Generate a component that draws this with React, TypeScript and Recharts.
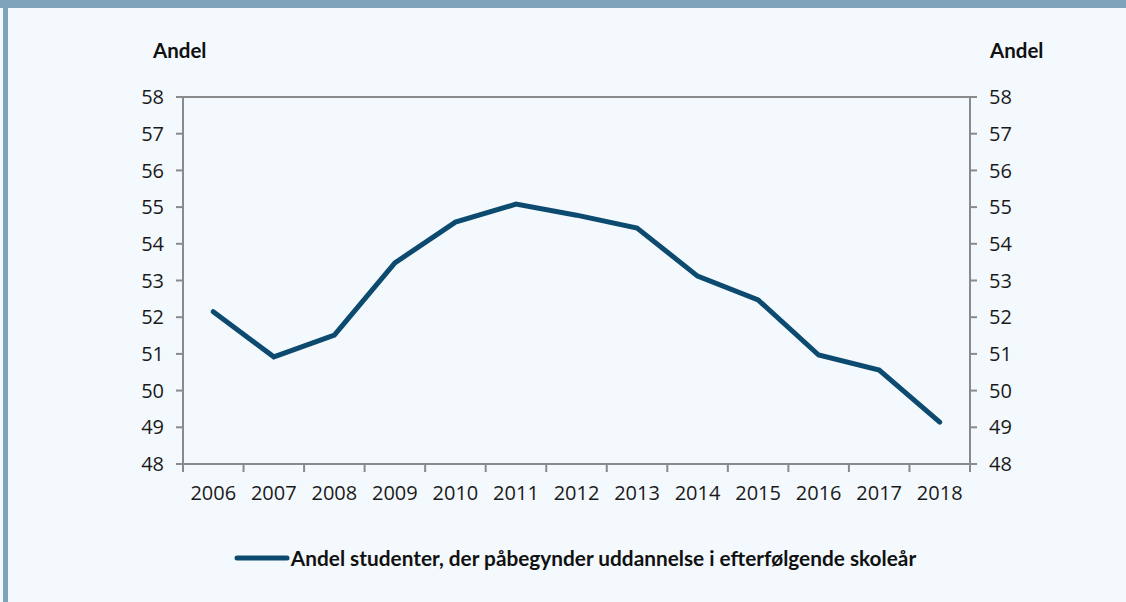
import { LineChart, Line, XAxis, YAxis, CartesianGrid, Legend } from 'recharts';

// share of students starting an education in the following school year
const years = ['2006', '2007', '2008', '2009', '2010', '2011', '2012', '2013', '2014', '2015', '2016', '2017', '2018'];
const andel = [52.15, 50.92, 51.51, 53.48, 54.59, 55.08, 54.78, 54.43, 53.12, 52.47, 50.97, 50.56, 49.14];
const yTicks = [48, 49, 50, 51, 52, 53, 54, 55, 56, 57, 58];
const seriesName = 'Andel studenter, der påbegynder uddannelse i efterfølgende skoleår';

const data = years.map((year, i) => ({ year, andel: andel[i] }));

const LINE = '#0d4a70';
const AXIS = '#8a8a8a';
const BAND = (970 - 183) / years.length;
const tickFont = { fontFamily: '"Open Sans", sans-serif', fontSize: 20, fill: '#1a1a1a' };

const XTick = (props: any) => {
  const { x, y, payload, index } = props;
  const half = BAND / 2;
  return (
    <g>
      <line x1={x - half} x2={x - half} y1={y} y2={y + 8} stroke={AXIS} strokeWidth={2} />
      {index === years.length - 1 && (
        <line x1={x + half} x2={x + half} y1={y} y2={y + 8} stroke={AXIS} strokeWidth={2} />
      )}
      <text x={x} y={y + 36} textAnchor="middle" {...tickFont}>
        {payload.value}
      </text>
    </g>
  );
};

const LegendContent = () => (
  <div style={{ display: 'flex', justifyContent: 'center', alignItems: 'center' }}>
    <svg width={56} height={10} style={{ marginRight: 1 }}>
      <line x1={3} x2={53} y1={5} y2={5} stroke={LINE} strokeWidth={5} strokeLinecap="round" />
    </svg>
    <span style={{ fontFamily: 'Lato, sans-serif', fontWeight: 700, fontSize: 20.8, color: '#111' }}>{seriesName}</span>
  </div>
);

const andelLabel = {
  position: 'absolute' as const,
  top: 38,
  fontFamily: 'Lato, sans-serif',
  fontWeight: 700,
  fontSize: 20.5,
  color: '#111',
};

export default function App() {
  return (
    <div style={{ position: 'fixed', left: 0, top: 0, width: 1126, height: 602, background: '#f4f9fd', overflow: 'hidden' }}>
      <div style={{ position: 'absolute', left: 0, top: 0, width: 1126, height: 8, background: '#7fa3b9' }} />
      <div style={{ position: 'absolute', left: 3, top: 0, width: 5, height: 602, background: '#7fa3b9' }} />
      <div style={{ ...andelLabel, left: 153 }}>Andel</div>
      <div style={{ ...andelLabel, left: 990 }}>Andel</div>
      <LineChart
        width={1126}
        height={602}
        data={data}
        margin={{ top: 97, right: 76, bottom: 98, left: 103 }}
        style={{ position: 'absolute', left: 0, top: 0 }}
      >
        <CartesianGrid vertical={false} stroke={AXIS} strokeWidth={2} />
        <XAxis
          dataKey="year"
          height={40}
          stroke={AXIS}
          strokeWidth={2}
          padding={{ left: BAND / 2, right: BAND / 2 }}
          tickLine={false}
          tickSize={0}
          tickMargin={0}
          interval={0}
          tick={<XTick />}
        />
        <YAxis
          yAxisId="left"
          type="number"
          domain={[48, 58]}
          ticks={yTicks}
          width={80}
          stroke={AXIS}
          strokeWidth={2}
          tickSize={7}
          tickMargin={12}
          tick={tickFont}
        />
        <YAxis
          yAxisId="right"
          type="number"
          orientation="right"
          domain={[48, 58]}
          allowDataOverflow
          ticks={yTicks}
          width={80}
          stroke={AXIS}
          strokeWidth={2}
          tickSize={7}
          tickMargin={12}
          tick={tickFont}
        />
        <Line
          yAxisId="left"
          dataKey="andel"
          name={seriesName}
          stroke={LINE}
          strokeWidth={5}
          strokeLinecap="round"
          dot={false}
          isAnimationActive={false}
        />
        <Legend verticalAlign="middle" wrapperStyle={{ top: 545, left: 12, width: 1126 }} content={<LegendContent />} />
      </LineChart>
    </div>
  );
}
